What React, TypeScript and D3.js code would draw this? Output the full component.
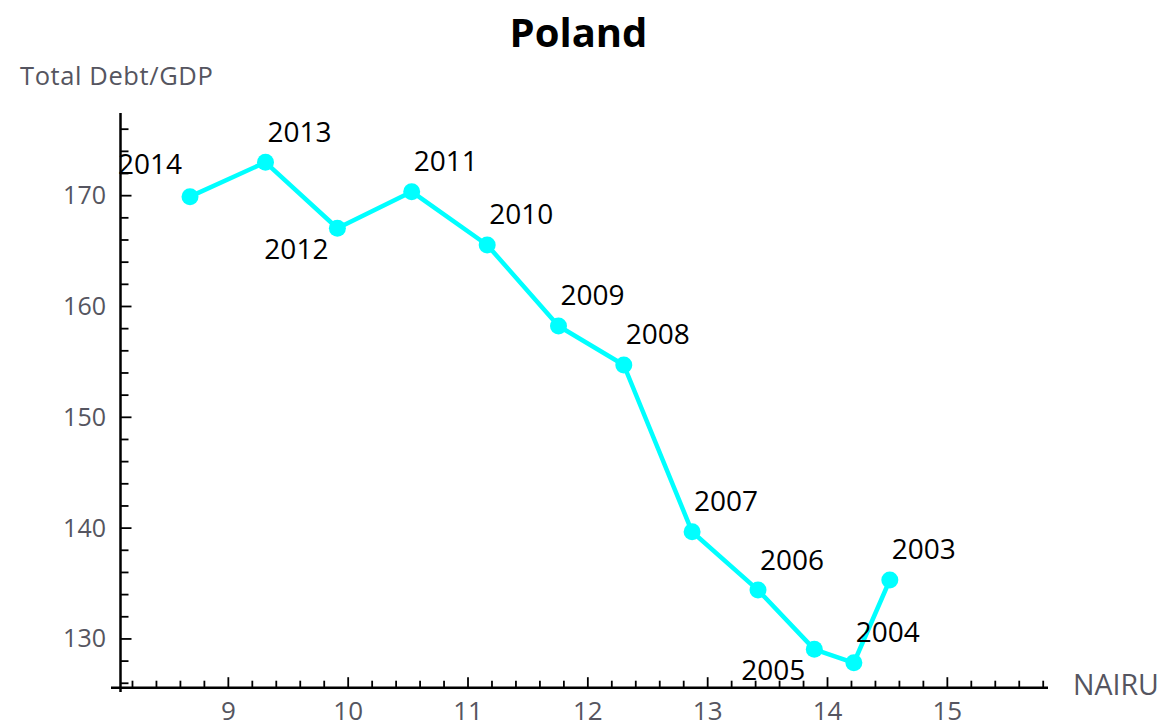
import React from "react";
import * as d3 from "d3";

const years = [2003, 2004, 2005, 2006, 2007, 2008, 2009, 2010, 2011, 2012, 2013, 2014];
const nairu = [14.52, 14.22, 13.89, 13.42, 12.87, 12.3, 11.755, 11.16, 10.53, 9.91, 9.31, 8.68];
const debt = [135.32, 127.85, 129.06, 134.41, 139.67, 154.72, 158.24, 165.55, 170.36, 167.06, 173.01, 169.91];
const labelSide = ["ne", "ne", "sw", "ne", "ne", "ne", "ne", "ne", "ne", "sw", "ne", "nw"];
const xMajorTicks = [9, 10, 11, 12, 13, 14, 15];
const yMajorTicks = [130, 140, 150, 160, 170];

const W = 1174;
const H = 728;
const xDomain: [number, number] = [8.1, 15.84];
const yDomain: [number, number] = [125.6, 177.46];

export default function App() {
  const x = d3.scaleLinear().domain(xDomain).range([120.5, 1048]);
  const y = d3.scaleLinear().domain(yDomain).range([687.7, 113]);
  const x0 = x(xDomain[0]);
  const y0 = y(yDomain[0]);

  const xMinor = d3.range(82, 159, 2).map((v) => v / 10).filter((v) => !xMajorTicks.some((m) => Math.abs(m - v) < 1e-6));
  const yMinor = d3.range(126, 177, 2).filter((v) => !yMajorTicks.includes(v));

  const pts = years.map((yr, i) => ({ yr, px: x(nairu[i]), py: y(debt[i]), side: labelSide[i] }));
  const line = d3.line<{ px: number; py: number }>().x((d) => d.px).y((d) => d.py);

  const off: Record<string, [number, number]> = {
    ne: [34, -20.5],
    sw: [-41, 31],
    nw: [-40, -23],
  };

  const font = "'Open Sans', 'Noto Sans', sans-serif";
  const tickColor = "#555560";

  return (
    <div style={{ position: "absolute", left: 0, top: 0 }}>
      <svg width={W} height={H} style={{ display: "block", background: "#fff" }}>
        <text x={578.5} y={47} textAnchor="middle" fontFamily={font} fontWeight="bold" fontSize={40} fill="#000">
          Poland
        </text>
        <text x={20} y={85} fontFamily={font} fontSize={25.5} letterSpacing={0.6} fill={tickColor}>
          Total Debt/GDP
        </text>
        <text x={1073} y={695} fontFamily={font} fontSize={28.5} fill={tickColor}>
          NAIRU
        </text>

        {/* axes */}
        <line x1={111} x2={1048} y1={y0} y2={y0} stroke="#000" strokeWidth={2.5} />
        <line x1={x0} x2={x0} y1={113} y2={692} stroke="#000" strokeWidth={2.5} />

        {xMinor.map((v) => (
          <line key={"xm" + v} x1={x(v)} x2={x(v)} y1={y0} y2={y0 - 7} stroke="#000" strokeWidth={1.8} />
        ))}
        {xMajorTicks.map((v) => (
          <g key={"xM" + v}>
            <line x1={x(v)} x2={x(v)} y1={y0} y2={y0 - 10.5} stroke="#000" strokeWidth={1.8} />
            <text x={x(v)} y={720} textAnchor="middle" fontFamily={font} fontSize={26} fill={tickColor}>
              {v}
            </text>
          </g>
        ))}
        {yMinor.map((v) => (
          <line key={"ym" + v} x1={x0} x2={x0 + 8} y1={y(v)} y2={y(v)} stroke="#000" strokeWidth={1.8} />
        ))}
        {yMajorTicks.map((v) => (
          <g key={"yM" + v}>
            <line x1={x0} x2={x0 + 11} y1={y(v)} y2={y(v)} stroke="#000" strokeWidth={1.8} />
            <text x={106} y={y(v)} dy="0.34em" textAnchor="end" fontFamily={font} fontSize={25} fill={tickColor}>
              {v}
            </text>
          </g>
        ))}

        <path d={line(pts) || ""} fill="none" stroke="#00ffff" strokeWidth={4.5} strokeLinejoin="round" />
        {pts.map((p) => (
          <circle key={"c" + p.yr} cx={p.px} cy={p.py} r={8.5} fill="#00ffff" />
        ))}
        {pts.map((p) => (
          <text
            key={"t" + p.yr}
            x={p.px + off[p.side][0]}
            y={p.py + off[p.side][1]}
            textAnchor="middle"
            fontFamily={font}
            fontSize={28}
            fill="#000"
          >
            {p.yr}
          </text>
        ))}
      </svg>
    </div>
  );
}
